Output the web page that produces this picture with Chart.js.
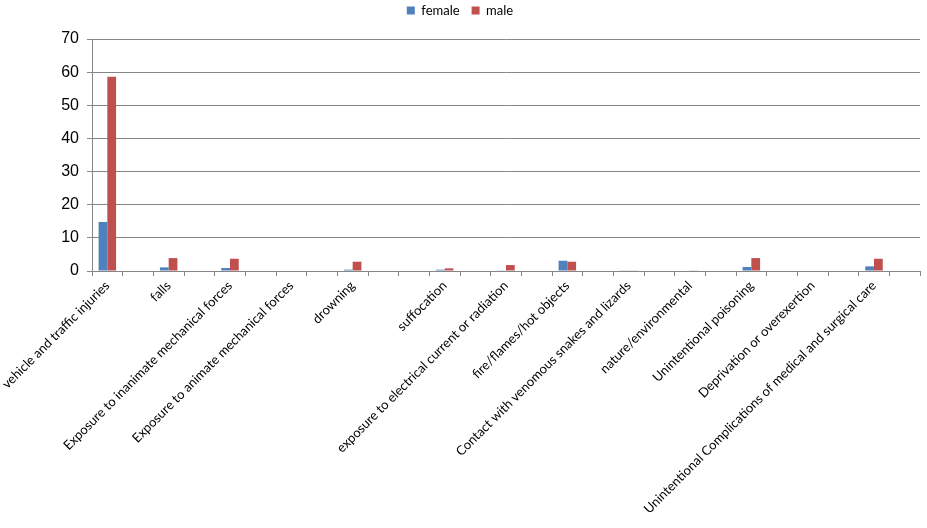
<!DOCTYPE html>
<html>
<head>
<meta charset="utf-8">
<script src="https://cdn.jsdelivr.net/npm/chart.js@4"></script>
<style>
  html, body { margin: 0; padding: 0; background: #fff; }
  #wrap { width: 927px; height: 528px; }
</style>
</head>
<body>
<div id="wrap"><canvas id="chart" width="927" height="528"></canvas></div>
<script>
// Categories (blank rows in the source sheet kept as empty labels)
const categories = [
  "vehicle and traffic injuries", "",
  "falls", "",
  "Exposure to inanimate mechanical forces", "",
  "Exposure to animate mechanical forces", "",
  "drowning", "", "",
  "suffocation", "",
  "exposure to electrical current or radiation", "",
  "fire/flames/hot objects", "",
  "Contact with venomous snakes and lizards", "",
  "nature/environmental", "",
  "Unintentional poisoning", "",
  "Deprivation or overexertion", "",
  "Unintentional Complications of medical and surgical care", ""
];

const female = [
  14.8, null, 1.1, null, 0.9, null, 0, null, 0.4, null, null,
  0.4, null, 0.2, null, 3.1, null, 0.2, null, 0, null,
  1.2, null, 0, null, 1.4, null
];

const male = [
  58.6, null, 3.9, null, 3.7, null, 0, null, 2.8, null, null,
  0.8, null, 1.8, null, 2.8, null, 0.2, null, 0.2, null,
  3.9, null, 0, null, 3.7, null
];

const yTicks = [0, 10, 20, 30, 40, 50, 60, 70];

const axisGray = "#868686";

// legend sits high, with a fixed gap down to the plot
const legendGap = {
  id: "legendGap",
  beforeInit(chart) {
    const fit = chart.legend.fit;
    chart.legend.fit = function () {
      fit.call(this);
      this.height = 47;
    };
  },
};

new Chart(document.getElementById("chart"), {
  type: "bar",
  data: {
    labels: categories,
    datasets: [
      { label: "female", data: female, backgroundColor: "#4F81BD" },
      { label: "male", data: male, backgroundColor: "#C0504D" },
    ],
  },
  plugins: [legendGap],
  options: {
    responsive: false,
    animation: false,
    categoryPercentage: 0.571,
    barPercentage: 1,
    layout: { padding: { left: 0, right: 7, top: -8, bottom: 0 } },
    plugins: {
      tooltip: { enabled: false },
      legend: {
        position: "top",
        labels: {
          boxWidth: 8,
          boxHeight: 8,
          padding: 12,
          color: "#000",
          font: { family: "Lato", size: 13 },
        },
      },
    },
    scales: {
      x: {
        offset: true,
        grid: {
          offset: true,
          drawOnChartArea: false,
          drawTicks: true,
          tickLength: 5,
          color: axisGray,
        },
        border: { color: axisGray },
        ticks: {
          autoSkip: false,
          maxRotation: 45,
          minRotation: 45,
          padding: 2,
          color: "#000",
          font: { family: "Lato", size: 13 },
        },
        afterFit: (scale) => {
          scale.height = 257;
          scale.paddingLeft = 0;
          scale.paddingRight = 0;
        },
      },
      y: {
        min: 0,
        max: 70,
        afterBuildTicks: (scale) => {
          scale.ticks = yTicks.map((v) => ({ value: v }));
        },
        grid: { color: axisGray, tickLength: 5 },
        border: { color: axisGray },
        ticks: {
          padding: 8,
          color: "#000",
          font: { family: "Liberation Sans", size: 16 },
        },
        afterFit: (scale) => {
          scale.width = 92;
        },
      },
    },
  },
});
</script>
</body>
</html>
